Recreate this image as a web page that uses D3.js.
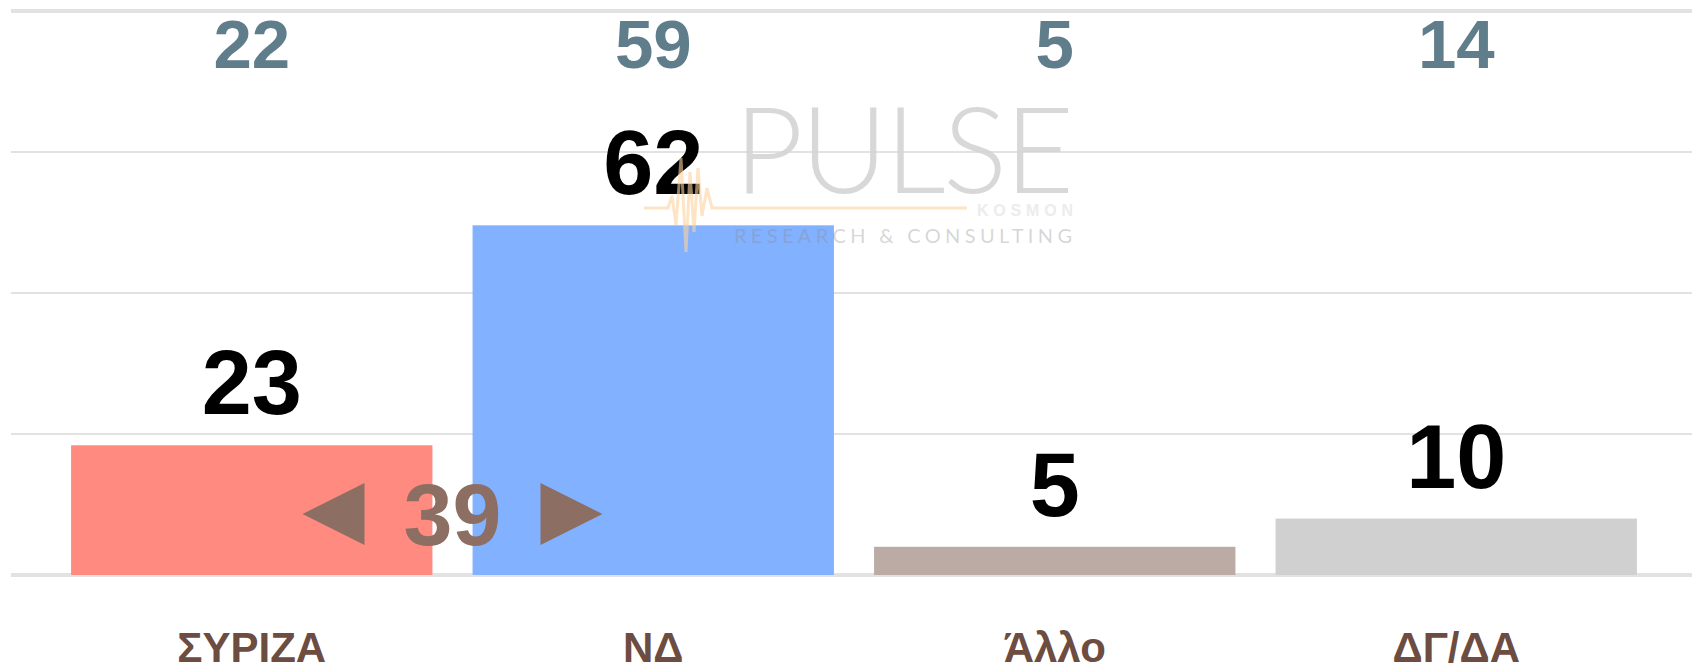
<!DOCTYPE html>
<html>
<head>
<meta charset="utf-8">
<script src="https://cdn.jsdelivr.net/npm/d3@7"></script>
<style>
  body { margin: 0; background: #fff; }
  svg { display: block; font-family: "Liberation Sans", Arial, sans-serif; }
</style>
</head>
<body>
<div id="chart"></div>
<script>
/* Poll bar chart: current vs earlier share, Pulse watermark */

const categories = ["ΣΥΡΙΖΑ", "ΝΔ", "Άλλο", "ΔΓ/ΔΑ"];
const values = [23, 62, 5, 10];        // bars
const previous = [22, 59, 5, 14];      // numbers along the top
const colors = ["#ff8a80", "#82b1ff", "#bcaaa4", "#d0d0d0"];
const yTicks = [0, 25, 50, 75, 100];

const width = 1692,
      height = 667,
      margin = ({top: 11, right: 35, bottom: 92, left: 51});

let svg = d3.select("#chart")
    .append("svg")
    .attr("width", width)
    .attr("height", height)
    .attr("viewBox", [0, 0, width, height]);

let x = d3.scaleBand()
    .domain(categories)
    .range([margin.left, width - margin.right])
    .paddingInner(0.1)
    .paddingOuter(0.05);

let y = d3.scaleLinear()
    .domain([0, 100])
    .range([height - margin.bottom, margin.top]);

// gridlines, top and bottom ones a bit heavier
svg.append("g")
    .selectAll("line")
    .data(yTicks)
    .join("line")
    .attr("x1", 11)
    .attr("x2", width)
    .attr("y1", d => y(d))
    .attr("y2", d => y(d))
    .attr("stroke", "#e2e2e2")
    .attr("stroke-width", d => (d === 0 || d === 100) ? 4 : 2);

let data = categories.map((c, i) => ({cat: c, v: values[i], prev: previous[i], color: colors[i]}));

// bars
svg.append("g")
    .selectAll("rect")
    .data(data)
    .join("rect")
    .attr("x", d => x(d.cat))
    .attr("width", x.bandwidth())
    .attr("y", d => y(d.v))
    .attr("height", d => y(0) - y(d.v))
    .attr("fill", d => d.color);

// value labels above bars
svg.append("g")
    .selectAll("text")
    .data(data)
    .join("text")
    .attr("x", d => x(d.cat) + x.bandwidth() / 2)
    .attr("y", d => y(d.v) - 31)
    .attr("text-anchor", "middle")
    .attr("font-size", 90)
    .attr("font-weight", "bold")
    .attr("fill", "#000")
    .text(d => d.v);

// earlier numbers along the top
svg.append("g")
    .selectAll("text")
    .data(data)
    .join("text")
    .attr("x", d => x(d.cat) + x.bandwidth() / 2)
    .attr("y", 68)
    .attr("text-anchor", "middle")
    .attr("font-size", 69)
    .attr("font-weight", "bold")
    .attr("fill", "#607d8b")
    .text(d => d.prev);

// category labels (x axis)
const xAxis = g => g
    .attr("transform", `translate(0, ${y(0)})`)
    .call(d3.axisBottom(x).tickSize(0).tickPadding(0))
    .call(g => g.select(".domain").remove())
    .call(g => g.selectAll("text")
        .attr("y", 87)
        .attr("dy", null)
        .attr("font-size", 42)
        .attr("font-weight", "bold")
        .attr("font-family", "'Liberation Sans', Arial, sans-serif")
        .attr("fill", "#6d4c41"));

svg.append("g").call(xAxis);

// gap between the two leading parties
const lead = values[1] - values[0];
const cx = (x(categories[0]) + x(categories[1]) + x.bandwidth()) / 2;
const cy = 514;
let gap = svg.append("g").attr("fill", "#8d6e63");
gap.append("text")
    .attr("x", cx)
    .attr("y", cy + 31)
    .attr("text-anchor", "middle")
    .attr("font-size", 88)
    .attr("font-weight", "bold")
    .text(lead);
gap.append("path")
    .attr("d", `M${cx - 150},${cy} L${cx - 88},${cy - 31} L${cx - 88},${cy + 31} Z`);
gap.append("path")
    .attr("d", `M${cx + 150},${cy} L${cx + 88},${cy - 31} L${cx + 88},${cy + 31} Z`);

// Pulse watermark
let wm = svg.append("g").attr("transform", "translate(734, 0)");
wm.append("text")
    .attr("x", 0)
    .attr("y", 193)
    .attr("font-family", "Lato, 'Open Sans', sans-serif")
    .attr("font-weight", 300)
    .attr("font-size", 120)
    .attr("fill", "#d4d4d4")
    .attr("fill-opacity", 0.9)
    .attr("textLength", 340)
    .attr("lengthAdjust", "spacing")
    .text("PULSE");
wm.append("path")
    .attr("d", "M-90,208 L-66,208 L-62,196 L-58,225 L-53,158 L-48,252 L-44,172 L-40,232 L-36,168 L-32,216 L-27,188 L-22,208 L233,208")
    .attr("fill", "none")
    .attr("stroke", "#fbd29c")
    .attr("stroke-opacity", 0.6)
    .attr("stroke-width", 3);
wm.append("text")
    .attr("x", 339)
    .attr("y", 216)
    .attr("text-anchor", "end")
    .attr("font-size", 16)
    .attr("font-weight", "bold")
    .attr("fill", "#ececec")
    .attr("textLength", 96)
    .text("KOSMON");
wm.append("text")
    .attr("x", 0)
    .attr("y", 243)
    .attr("font-family", "Lato, 'Open Sans', sans-serif")
    .attr("font-size", 20)
    .attr("fill", "#8a8a8a")
    .attr("fill-opacity", 0.35)
    .attr("textLength", 338)
    .text("RESEARCH & CONSULTING");
</script>
</body>
</html>
